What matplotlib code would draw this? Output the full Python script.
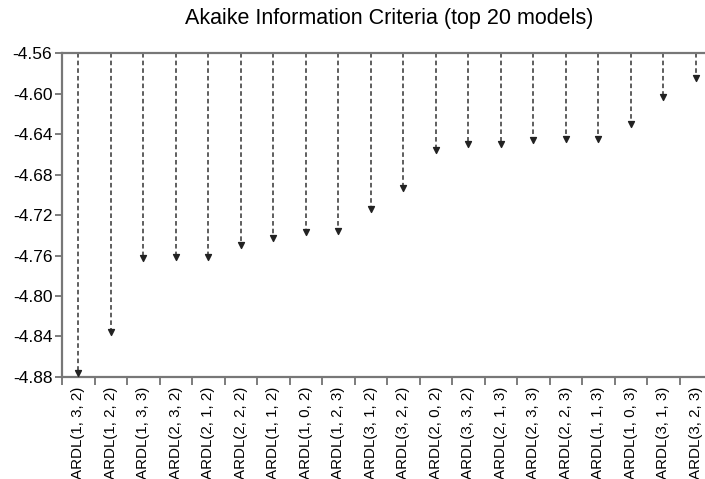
import numpy as np
import matplotlib
matplotlib.use("Agg")
import matplotlib.pyplot as plt

plt.rcParams["font.family"] = ["Liberation Sans", "DejaVu Sans"]

# ── Top 20 ARDL specifications ranked by AIC ─────────────────────────────────
models = [
    "ARDL(1, 3, 2)", "ARDL(1, 2, 2)", "ARDL(1, 3, 3)", "ARDL(2, 3, 2)",
    "ARDL(2, 1, 2)", "ARDL(2, 2, 2)", "ARDL(1, 1, 2)", "ARDL(1, 0, 2)",
    "ARDL(1, 2, 3)", "ARDL(3, 1, 2)", "ARDL(3, 2, 2)", "ARDL(2, 0, 2)",
    "ARDL(3, 3, 2)", "ARDL(2, 1, 3)", "ARDL(2, 3, 3)", "ARDL(2, 2, 3)",
    "ARDL(1, 1, 3)", "ARDL(1, 0, 3)", "ARDL(3, 1, 3)", "ARDL(3, 2, 3)",
]
aic = [
    -4.876, -4.836, -4.762, -4.761, -4.761, -4.750, -4.743, -4.737,
    -4.736, -4.714, -4.693, -4.656, -4.650, -4.650, -4.646, -4.645,
    -4.645, -4.630, -4.603, -4.585,
]
yticks = [-4.56, -4.60, -4.64, -4.68, -4.72, -4.76, -4.80, -4.84, -4.88]
y_top, y_bottom = -4.56, -4.88

fig = plt.figure(figsize=(7.05, 4.79), dpi=100)
ax = fig.add_axes([0.088, 0.213, 0.922, 0.676])

x = np.arange(len(models))
ax.vlines(x, y_top, aic, colors="#333333", linestyles=(0, (3, 2)), linewidth=1.1)
ax.scatter(x, aic, marker="v", s=18, color="#222222", zorder=3)

ax.set_xlim(-0.5, len(models) - 0.5)
ax.set_ylim(y_bottom, y_top)
ax.set_yticks(yticks)
ax.set_yticklabels([f"{v:.2f}" for v in yticks], fontsize=12.5)

# category labels centred, tick marks on the boundaries
ax.set_xticks(x)
ax.set_xticklabels(models, rotation=90, fontsize=10.9)
ax.tick_params(axis="x", which="major", length=0, pad=7)
ax.set_xticks(np.arange(-0.5, len(models), 1), minor=True)
ax.tick_params(axis="x", which="minor", length=6, width=1.2, color="#666666")
ax.tick_params(axis="y", length=5, width=1.2, color="#666666", pad=2)

for side in ["left", "bottom", "top"]:
    ax.spines[side].set_color("#777777")
    ax.spines[side].set_linewidth(1.6)
ax.spines["right"].set_visible(False)

fig.suptitle("Akaike Information Criteria (top 20 models)", x=0.552, y=0.983, fontsize=15.5)

fig.savefig("out.png", dpi=100)
